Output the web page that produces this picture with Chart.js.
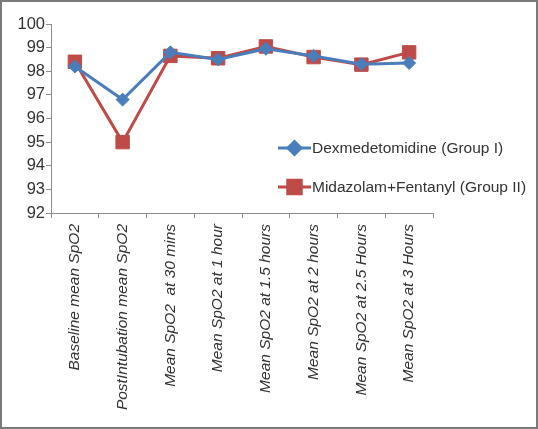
<!DOCTYPE html>
<html>
<head>
<meta charset="utf-8">
<script src="https://cdn.jsdelivr.net/npm/chart.js@4"></script>
<style>
html,body{margin:0;padding:0;background:#fff;}
#wrap{position:relative;width:538px;height:429px;box-sizing:border-box;border:2px solid #7a7a7a;background:#fff;}
#c{display:block;}
</style>
</head>
<body>
<div id="wrap"><canvas id="c" width="534" height="425"></canvas></div>
<script>
const categories = [
  "Baseline mean SpO2",
  "PostIntubation mean SpO2",
  "Mean SpO2  at 30 mins",
  "Mean SpO2 at 1 hour",
  "Mean SpO2 at 1.5 hours",
  "Mean SpO2 at 2 hours",
  "Mean SpO2 at 2.5 Hours",
  "Mean SpO2 at 3 Hours"
];
const seriesNames = ["Dexmedetomidine (Group I)", "Midazolam+Fentanyl (Group II)"];
const dexValues = [98.2, 96.8, 98.8, 98.5, 98.95, 98.65, 98.3, 98.35];
const midValues = [98.4, 95.0, 98.65, 98.55, 99.05, 98.6, 98.28, 98.8];
const yTicks = [92, 93, 94, 95, 96, 97, 98, 99, 100];

const BLUE = "#4A7EBB";
const RED = "#BE4B48";
const FONT = "'Liberation Sans', Arial, sans-serif";

const legendPlugin = {
  id: "customLegend",
  afterDraw(chart) {
    const ctx = chart.ctx;
    const items = [
      {label: seriesNames[0], color: BLUE, style: "rectRot", r: 6.5, y: 146},
      {label: seriesNames[1], color: RED, style: "rect", r: 9.5, y: 185}
    ];
    ctx.save();
    items.forEach(it => {
      ctx.strokeStyle = it.color;
      ctx.lineWidth = 3;
      ctx.beginPath();
      ctx.moveTo(276, it.y);
      ctx.lineTo(309, it.y);
      ctx.stroke();
      ctx.fillStyle = it.color;
      Chart.helpers.drawPoint(ctx, {pointStyle: it.style, radius: it.r, borderWidth: 1}, 292.5, it.y);
      ctx.fill();
      ctx.fillStyle = "#333";
      ctx.font = "15.5px " + FONT;
      ctx.textBaseline = "middle";
      ctx.textAlign = "left";
      ctx.fillText(it.label, 310, it.y + 1);
    });
    ctx.restore();
  }
};

new Chart(document.getElementById("c"), {
  type: "line",
  data: {
    labels: categories,
    datasets: [
      {
        label: seriesNames[0],
        data: dexValues,
        borderColor: BLUE,
        backgroundColor: BLUE,
        borderWidth: 3,
        pointStyle: "rectRot",
        pointRadius: 6.5,
        pointBorderWidth: 1,
        pointBackgroundColor: BLUE,
        pointBorderColor: BLUE,
        tension: 0
      },
      {
        label: seriesNames[1],
        data: midValues,
        borderColor: RED,
        backgroundColor: RED,
        borderWidth: 3,
        pointStyle: "rect",
        pointRadius: 9.5,
        pointBorderWidth: 1,
        pointBackgroundColor: RED,
        pointBorderColor: RED,
        tension: 0
      }
    ]
  },
  options: {
    responsive: false,
    animation: false,
    devicePixelRatio: 1,
    layout: {padding: {left: 0, right: 103, top: 22, bottom: 0}},
    plugins: {legend: {display: false}, tooltip: {enabled: false}},
    scales: {
      x: {
        offset: true,
        grid: {offset: true, drawOnChartArea: false, tickLength: 5, color: "#8c8c8c", tickColor: "#8c8c8c"},
        border: {color: "#8c8c8c", width: 1},
        ticks: {
          minRotation: 90, maxRotation: 90, autoSkip: false, padding: 6,
          color: "#333", font: {family: FONT, size: 15.5, style: "italic"}
        },
        afterFit(scale) { scale.height = 214; }
      },
      y: {
        min: 92, max: 100,
        afterBuildTicks(scale) { scale.ticks = yTicks.map(v => ({value: v})); },
        grid: {drawOnChartArea: false, tickLength: 5, color: "#8c8c8c", tickColor: "#8c8c8c"},
        border: {color: "#8c8c8c", width: 1},
        ticks: {padding: 1, color: "#333", font: {family: FONT, size: 16.5}},
        afterFit(scale) { scale.width = 49; }
      }
    }
  },
  plugins: [legendPlugin]
});
</script>
</body>
</html>
